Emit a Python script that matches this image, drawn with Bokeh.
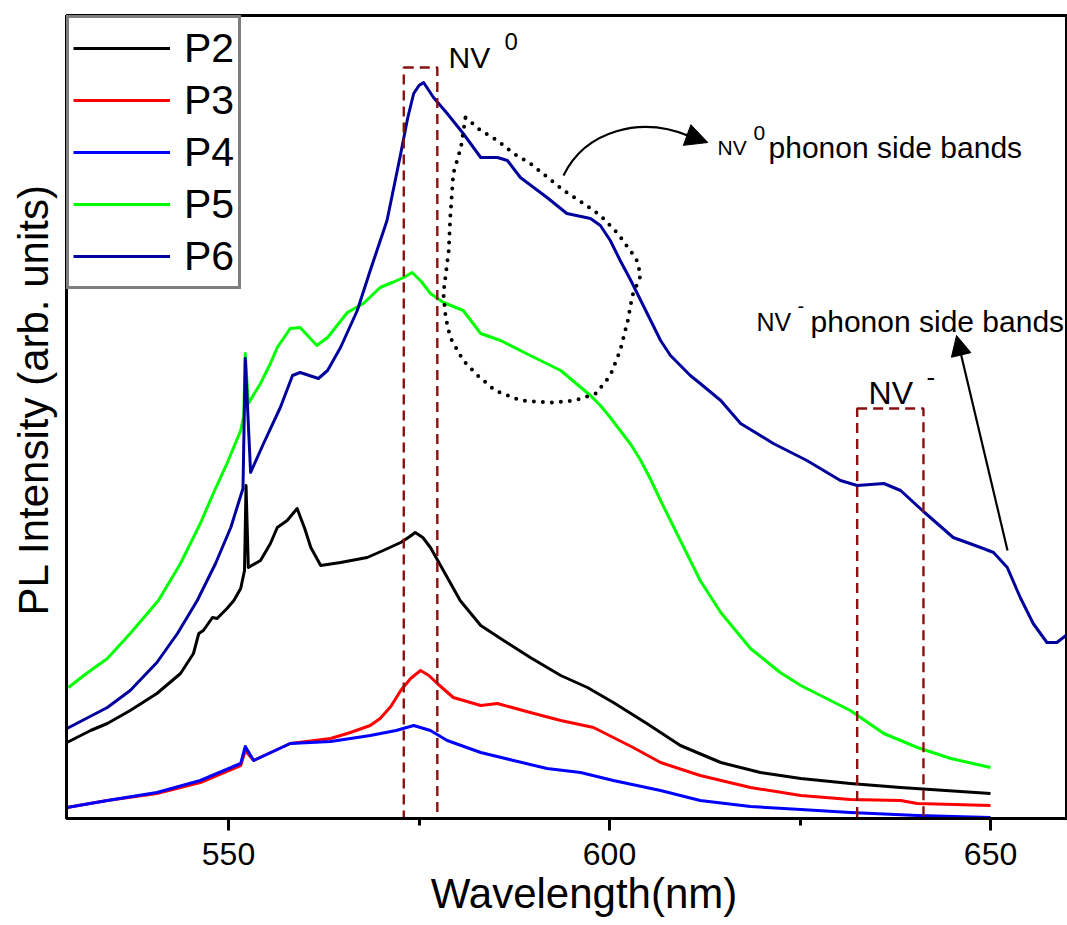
from bokeh.plotting import figure
from bokeh.models import Legend, LegendItem, FixedTicker, Label, Arrow, NormalHead
from bokeh.embed import file_html
from bokeh.resources import INLINE

# PL spectra (wavelength in nm, intensity in arbitrary units)
p2_wl = [528.8, 531.9, 534.1, 537.1, 540.6, 543.7, 545.4, 546.1, 546.7, 547.9, 548.5, 549.8, 550.7,
         551.6, 552.1, 552.3, 552.6, 554.2, 555.5, 556.4, 557.7, 559.0, 560.0, 560.8, 562.1, 564.7,
         568.2, 570.3, 572.6, 573.8, 574.5, 575.5, 576.5, 578.2, 580.4, 583.1, 586.1, 589.6, 593.6,
         597.1, 600.5, 604.9, 609.3, 614.6, 619.8, 625.1, 631.6, 638.2, 650.0]
p2_int = [76, 88, 95, 108, 125, 145, 165, 185, 188, 201, 200, 210, 218,
          230, 248, 333, 251, 258, 275, 291, 298, 310, 290, 271, 253, 256,
          261, 268, 276, 282, 286, 281, 271, 248, 218, 193, 178, 161, 143,
          131, 116, 95, 73, 56, 46, 40, 35, 31, 25]

p3_wl = [528.8, 534.1, 540.6, 546.3, 551.6, 552.2, 553.3, 558.1, 563.4, 566.0, 568.6, 569.9, 571.3,
         572.6, 573.9, 575.2, 576.3, 577.4, 579.5, 583.1, 585.3, 589.6, 593.6, 597.9, 600.5, 603.1,
         606.7, 611.9, 618.5, 625.1, 631.6, 638.2, 640.4, 650.0]
p3_int = [11, 18, 25, 36, 53, 68, 58, 75, 80, 86, 93, 100, 112,
          128, 140, 148, 143, 135, 121, 113, 115, 106, 98, 91, 81, 71,
          56, 43, 31, 23, 19, 18, 15, 13]

p4_wl = [528.8, 534.1, 540.6, 546.3, 551.6, 552.2, 553.3, 558.1, 563.4, 568.6, 572.0, 574.3, 576.5,
         578.7, 583.1, 587.4, 591.8, 596.2, 600.5, 606.7, 611.9, 618.5, 625.1, 631.6, 640.4, 650.0]
p4_int = [11, 18, 26, 38, 55, 72, 58, 75, 77, 83, 88, 93, 88,
          78, 66, 58, 50, 46, 38, 28, 18, 12, 9, 6, 3, 1]

p5_wl = [529.0, 531.0, 534.1, 537.1, 540.8, 543.7, 546.3, 548.0, 549.8, 551.6, 552.0, 552.2, 552.6,
         554.2, 555.5, 556.4, 558.1, 559.4, 560.5, 561.6, 563.0, 565.6, 567.7, 569.9, 571.5, 573.0,
         574.1, 575.3, 576.5, 578.2, 580.8, 583.1, 585.7, 589.6, 593.6, 597.5, 598.8, 600.1, 601.4,
         602.8, 604.1, 605.4, 606.7, 608.0, 609.3, 611.9, 614.6, 618.5, 622.4, 625.1, 629.0, 631.6,
         636.0, 640.4, 644.8, 650.0]
p5_int = [131, 143, 160, 185, 218, 255, 295, 325, 355, 388, 403, 465, 415,
          435, 455, 471, 490, 491, 482, 473, 481, 506, 515, 531, 536, 541,
          546, 537, 525, 516, 508, 485, 478, 463, 448, 423, 413, 401, 388,
          374, 358, 339, 318, 298, 278, 238, 206, 170, 146, 133, 118, 108,
          85, 71, 60, 51]

p6_wl = [528.8, 534.1, 537.1, 540.6, 543.3, 545.9, 548.3, 550.3, 551.9, 552.2, 552.9, 554.6, 556.8,
         558.4, 559.4, 561.8, 563.0, 564.7, 566.9, 568.6, 570.8, 571.8, 572.6, 573.5, 574.3, 575.0,
         575.6, 576.9, 578.7, 580.8, 583.1, 585.3, 586.6, 588.3, 591.8, 594.4, 597.5, 598.8, 600.1,
         601.4, 602.8, 604.1, 605.4, 606.7, 608.0, 609.3, 610.6, 611.9, 614.6, 617.2, 621.5, 625.9,
         630.3, 632.5, 636.0, 638.2, 641.2, 645.1, 648.7, 650.4, 652.2, 653.9, 655.6, 657.4, 658.7,
         659.9]
p6_int = [90, 111, 128, 156, 185, 218, 255, 291, 330, 460, 346, 375, 411,
          443, 446, 440, 448, 471, 508, 548, 598, 635, 665, 700, 725, 733,
          736, 721, 705, 685, 661, 661, 658, 641, 621, 605, 600, 593, 578,
          558, 538, 518, 498, 478, 463, 453, 443, 435, 418, 395, 375, 358,
          338, 333, 335, 328, 307, 281, 271, 266, 251, 221, 195, 176, 176,
          183]

series_names = ["P2", "P3", "P4", "P5", "P6"]
series_colors = ["#000000", "#ff0000", "#0000ff", "#00ff00", "#00009c"]

# Zero-phonon line windows (nm) and box heights
nv0_box = (573.0, 577.4, 751)
nvm_box = (632.5, 641.2, 410)

# Region enclosing the NV0 phonon side bands
loop_wl = [581.1, 583.1, 585.3, 587.4, 589.6, 591.9, 594.0, 596.6, 598.8, 601.1, 602.4, 603.5, 604.1,
           603.0, 602.4, 601.4, 600.1, 598.2, 595.5, 592.3, 588.3, 585.0, 582.7, 580.8, 579.1, 578.5,
           578.2, 578.9, 579.1, 579.5, 580.5, 581.1]
loop_int = [701, 688, 678, 665, 655, 641, 628, 615, 603, 585, 571, 560, 543,
            523, 498, 468, 443, 425, 418, 416, 418, 428, 443, 458, 481, 501,
            525, 568, 601, 645, 671, 701]

FONT = "Liberation Sans"
NBSP = "\u00a0"

p = figure(width=1067, height=925, x_range=(528.74, 659.97), y_range=(0, 803),
           output_backend="svg", toolbar_location=None,
           min_border_left=66, min_border_right=1, min_border_top=15, min_border_bottom=107)
p.grid.visible = False
p.outline_line_color = "black"
p.outline_line_width = 3
p.background_fill_color = "white"
p.border_fill_color = "white"

renderers = []
for name, col, wl, val in zip(series_names, series_colors,
                              [p2_wl, p3_wl, p4_wl, p5_wl, p6_wl],
                              [p2_int, p3_int, p4_int, p5_int, p6_int]):
    r = p.line(wl, val, line_color=col, line_width=3, line_join="round")
    renderers.append(r)

# dashed boxes marking the zero-phonon lines
for left, right, top in (nv0_box, nvm_box):
    p.quad(left=left, right=right, bottom=0, top=top, fill_color=None,
           line_color="#8b1010", line_width=2.4, line_dash="10 6")

# dotted outline around the phonon side band region
p.line(loop_wl, loop_int, line_color="black", line_width=4, line_dash="0 9", line_cap="round")

# curved arrow towards the NV0 side band label
p.bezier(x0=[593.96], y0=[643], x1=[610.6], y1=[682], cx0=[596.85], cy0=[688],
         cx1=[604.07], cy1=[703], line_color="black", line_width=2.2)
p.add_layout(Arrow(end=NormalHead(size=22, fill_color="black", line_color="black"),
                   x_start=610.0, y_start=684, x_end=612.9, y_end=676,
                   line_color="black", line_width=2.2))
# straight arrow towards the NV- side band label
p.add_layout(Arrow(end=NormalHead(size=20, fill_color="black", line_color="black"),
                   x_start=652.23, y_start=268, x_end=645.54, y_end=483,
                   line_color="black", line_width=2.2))

def put(x, y, text, size):
    p.add_layout(Label(x=x, y=y, text=text, text_font=FONT, text_font_size=size,
                       text_color="black", text_baseline="alphabetic", text_align="left"))

put(578.87, 761, "NV", "30px")
put(586.22, 777, "0", "24px")
put(633.99, 426, "NV", "32px")
put(641.6, 442, "-", "26px")
put(614.17, 671, "NV", "21px")
put(618.9, 686, "0", "21px")
put(620.87, 671, "phonon side bands", "30px")
put(619.29, 497, "NV", "25px")
put(624.67, 513, "-", "20px")
put(626.38, 497, "phonon side bands", "30px")

# axes
xa = p.xaxis[0]
xa.ticker = FixedTicker(ticks=[550, 600, 650], minor_ticks=[525, 575, 625])
xa.axis_line_width = 3
xa.major_tick_line_width = 3
xa.major_tick_out = 12
xa.major_tick_in = 0
xa.minor_tick_line_width = 3
xa.minor_tick_out = 7
xa.minor_tick_in = 0
xa.major_label_text_font = FONT
xa.major_label_text_font_size = "32px"
xa.major_label_text_color = "black"
xa.major_label_standoff = 12
xa.axis_label = NBSP * 3 + "Wavelength(nm)"
xa.axis_label_text_font = FONT
xa.axis_label_text_font_size = "42px"
xa.axis_label_text_font_style = "normal"
xa.axis_label_text_color = "black"
xa.axis_label_standoff = 2

ya = p.yaxis[0]
ya.ticker = FixedTicker(ticks=[])
ya.axis_line_width = 3
ya.major_tick_line_color = None
ya.minor_tick_line_color = None
ya.axis_label = NBSP * 3 + "PL Intensity (arb. units)"
ya.axis_label_text_font = FONT
ya.axis_label_text_font_size = "42px"
ya.axis_label_text_font_style = "normal"
ya.axis_label_text_color = "black"
ya.axis_label_standoff = 10

legend = Legend(items=[LegendItem(label=n, renderers=[r]) for n, r in zip(series_names, renderers)],
                location="top_left")
legend.margin = 0
legend.padding = 4
legend.spacing = 0
legend.label_height = 52
legend.glyph_height = 52
legend.glyph_width = 97
legend.label_standoff = 14
legend.label_text_font = FONT
legend.label_text_font_size = "41px"
legend.label_text_color = "black"
legend.border_line_color = "black"
legend.border_line_width = 3
legend.background_fill_color = "white"
legend.background_fill_alpha = 1
p.add_layout(legend)

open("out.html", "w").write(file_html(p, INLINE))
